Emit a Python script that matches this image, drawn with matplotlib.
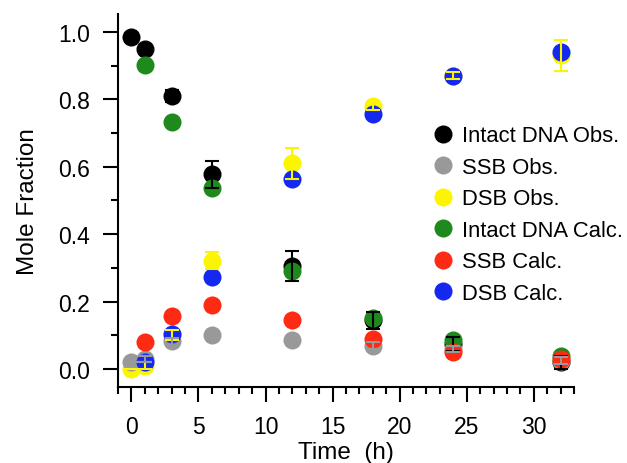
import numpy as np
import matplotlib
matplotlib.use("Agg")
import matplotlib.pyplot as plt
from matplotlib.ticker import MultipleLocator, FormatStrFormatter

plt.rcParams["font.family"] = ["Liberation Sans", "DejaVu Sans"]

# time points (h)
time_h = [0, 1, 3, 6, 12, 18, 24, 32]

# observed values and errors
intact_obs = [0.985, 0.948, 0.81, 0.578, 0.305, 0.145, 0.075, 0.02]
intact_obs_err = [0.0, 0.0, 0.018, 0.04, 0.045, 0.025, 0.02, 0.02]
ssb_obs = [0.02, 0.03, 0.082, 0.10, 0.085, 0.07, 0.06, 0.025]
ssb_obs_err = [0.0, 0.01, 0.01, 0.01, 0.005, 0.01, 0.01, 0.01]
dsb_obs = [0.0, 0.01, 0.10, 0.322, 0.61, 0.78, 0.87, 0.93]
dsb_obs_err = [0.0, 0.01, 0.015, 0.025, 0.045, 0.012, 0.01, 0.047]

# calculated values
calc_time_h = [1, 3, 6, 12, 18, 24, 32]
intact_calc = [0.902, 0.733, 0.536, 0.29, 0.152, 0.085, 0.04]
ssb_calc = [0.08, 0.158, 0.19, 0.146, 0.09, 0.05, 0.03]
dsb_calc = [0.02, 0.105, 0.272, 0.565, 0.757, 0.868, 0.94]

c_black = "#000000"
c_gray = "#999999"
c_yellow = "#fbf500"
c_green = "#1e8a1e"
c_red = "#ff2a14"
c_blue = "#1428f0"

fig = plt.figure(figsize=(6.27, 4.64), dpi=100)
ax = fig.add_axes([0.1882, 0.1638, 0.7273, 0.8039])

ms = 13
h_int, = ax.plot(time_h, intact_obs, "o", ms=ms, color=c_black, mec="none", zorder=3)
h_dsb, = ax.plot(time_h, dsb_obs, "o", ms=ms, color=c_yellow, mec="none", zorder=3)
h_ssb, = ax.plot(time_h, ssb_obs, "o", ms=ms, color=c_gray, mec="none", zorder=3)
h_intc, = ax.plot(calc_time_h, intact_calc, "o", ms=ms, color=c_green, mec="none", zorder=4)
h_ssbc, = ax.plot(calc_time_h, ssb_calc, "o", ms=ms, color=c_red, mec="none", zorder=4)
h_dsbc, = ax.plot(calc_time_h, dsb_calc, "o", ms=ms, color=c_blue, mec="none", zorder=4)

# error bars drawn on top like the original
for vals, errs, col in [(intact_obs, intact_obs_err, c_black),
                        (dsb_obs, dsb_obs_err, c_yellow),
                        (ssb_obs, ssb_obs_err, c_gray)]:
    ax.errorbar(time_h, vals, yerr=errs, fmt="none", ecolor=col,
                elinewidth=1.5, capsize=5, capthick=1.5, zorder=5)

ax.set_xlim(-1, 33)
ax.set_ylim(-0.053, 1.053)

ax.xaxis.set_major_locator(MultipleLocator(5))
ax.xaxis.set_minor_locator(MultipleLocator(1))
ax.yaxis.set_major_locator(MultipleLocator(0.2))
ax.yaxis.set_minor_locator(MultipleLocator(0.1))
ax.yaxis.set_major_formatter(FormatStrFormatter("%.1f"))

for s in ["top", "right"]:
    ax.spines[s].set_visible(False)
for s in ["left", "bottom"]:
    ax.spines[s].set_linewidth(1.5)

ax.tick_params(which="major", direction="out", length=11, width=1.5,
               labelsize=16.5)
ax.tick_params(which="minor", direction="out", length=5, width=1.5)
ax.tick_params(axis="x", which="major", pad=9)
ax.tick_params(axis="y", which="major", pad=9)

ax.set_xlabel("Time  (h)", fontsize=17.5, labelpad=2)
ax.set_ylabel("Mole Fraction", fontsize=17.5, labelpad=14)

ax.legend([h_int, h_ssb, h_dsb, h_intc, h_ssbc, h_dsbc],
          ["Intact DNA Obs.", "SSB Obs.", "DSB Obs.",
           "Intact DNA Calc.", "SSB Calc.", "DSB Calc."],
          loc="upper left", bbox_to_anchor=(0.692, 0.728),
          bbox_transform=fig.transFigure, frameon=False,
          fontsize=15.8, handletextpad=0.5, labelspacing=0.48,
          handlelength=0.8, borderaxespad=0, borderpad=0)

fig.savefig("out.png", dpi=100)
